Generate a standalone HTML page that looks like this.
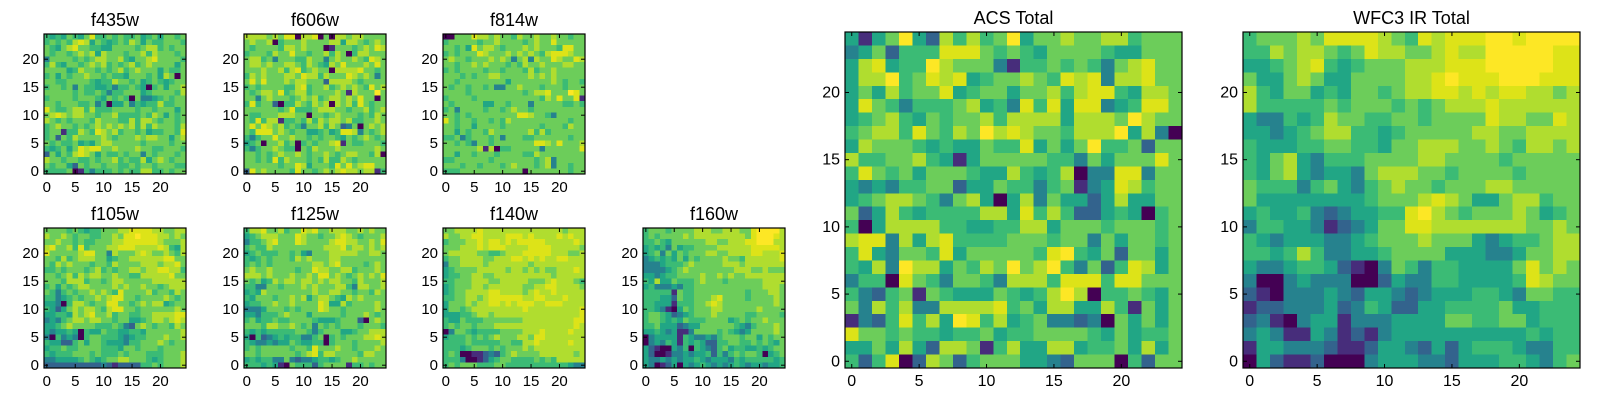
<!DOCTYPE html>
<html><head><meta charset="utf-8"><style>
html,body{margin:0;padding:0;background:#fff;}
svg{display:block;font-family:"Liberation Sans","DejaVu Sans",sans-serif;}
</style></head><body>
<svg id="fig" width="1600" height="400" viewBox="0 0 1600 400" xmlns="http://www.w3.org/2000/svg"></svg>
<script>
// level palette (viridis-like) indices 0..9
const palette = ["#440154","#472d7b","#33638d","#26828e","#21a685","#3bbb75","#6ccd5a","#b0dd2f","#dde318","#fde725"];
const tickValues = [0,5,10,15,20];
const panelTitles = ["f435w","f606w","f814w","f105w","f125w","f140w","f160w","ACS Total","WFC3 IR Total"];
// rows listed top (y=24) to bottom (y=0)
const f435w = ["5454654685565655645646656","5656578746545657646556665","6546786655446666567756566","6566567674766656675766656","3666656567766754667866665","5754665676756567567666646","6666457665656756766646556","5646566766565546665647606","6655666654557665645654566","5665636554453556540564667","6666656556535566645666657","5666656665465650633456566","6656665563504463545575566","8655677575556666566566646","6787677665667555565764656","7656566657666557577656656","5676656567676767575766657","5661557658767566564556658","5626576666765666767766467","6565564546776666656666566","5456468788667666766556665","2646578764655656636566656","7665665565667565574676566","6566426566566556566566655","5555601535556565577556566"];
const f606w = ["7777676880778060776776666","6766705666766667747765676","6566665776766601666567687","5666576686656675760577666","6775636665576636766765876","6776766776576547686667686","6667667578567660777786656","5767666776877576668767636","6868666767766627777656666","5656666557856675676765867","6567768567756666761766696","6636766656767567767686606","5856620557657670767586566","6666665685556777665667567","6556667776606656766656576","6585771556575767767556676","6868767565366757623606767","6588867656644564588736567","5356686676656566546567656","4560667560565667816556665","5356676550657666766666676","6656567667656676567766570","6656585766656575576566666","6666665668746665868678866","2867666658665676787767715"];
const f814w = ["0066687767665766766766566","5666665667666656766866666","6656486776566676766658866","5656668766676767657888766","6766566676763673766876687","6656676766656576676667766","5656666566566657566766666","6665656677666667676766666","6656666666646666666765665","6566566563366766656665666","6666566666666656778666986","5666656666666666657686681","6566666446656663666665565","5636666566567665666666666","6656566666666887665366666","8656656656576666666666566","6656646666566666656665766","6646566576666667575666666","5563566656366655666666566","6656536656666666887686667","6666667170556666636666668","6646656665666655766666666","5566666656666666567366666","6665665666567666567366566","5556666666666606666666566"];
const f105w = ["6666565455666778888776677","7667656655667688988877676","6676656556667788888876667","7866758566677888777787547","8666667886637666787667657","6657567776645667777778866","6576766656657666677767786","5565666567565667767788775","6656757677667665577777866","6665777566567766666777777","5646567766667676676656777","6535656676765866667566576","5534565667678866566667656","4430577656688665676774566","5424676776578866566666676","4455476786675665566777788","3435677677665664456776787","4456766665556532676566576","4344540544655445546666667","3053430566555434556667667","5442256466544435566676566","4556556666555466566656666","5455566656555656665556667","3344445654566776665456667","2222222222321222255656667"];
const f125w = ["5778667566878667776676766","4567776668766566787656667","3556786668766667887766768","5655766666666677786776767","4565556656436667777766776","5456566657676667766666666","5656566666667767866665676","6766766665668776677566676","7776766676676886765676768","6564576776776767766576667","5533665666767666775377667","4547666666667667766566576","5466656676746776547676666","4556676676666874475666676","3334666565666876656666676","4435556766646666656667656","5645565566665444566620676","6665776676563656566656665","5454555556653566644566777","4052345455335605656667787","5433434465445505666566667","5656666656658666766566676","6656666665678577666657766","4545533632334554566766666","5554541065552566661556566"];
const f140w = ["6677778777777777777776777","7667788777788878777787877","5666778788787888887777787","6667778788877778888777776","6777776655677788888777667","5667777667778878787788777","3667777677777776777777777","4566667777767767676677787","4556677667777777777677777","5566677766777776667877765","4566677677777766778877776","4566777788777767877877777","5566776788888877887778777","4666767788787888778887777","4665677777777787777777778","4445567767777777777777778","5446555666666677777777788","5656656667777777777777787","0366545555666677787777877","4555656567666776887777777","5555655555665577877777877","5554566656566676777777777","5650011232567666677777767","5553001245665555656577777","5656665556655555555555433"];
const f160w = ["5666566667776677766899997","5656666767777777776899987","5565466666677667778899977","4545364556666777777888887","4563646566677667777887778","3454546465666676657777778","3334555676666677767777777","3333456766666666777667666","4434556666766767667777777","5474465556766656666667777","4533343556666666666667776","5555516556666666665666776","5554426556667866665666676","5544415556678766666666676","5543104656667766666676666","5665423456667666665566665","5665454655566664565667666","5564442344666666543566676","4454341136666565434666676","0344441543343566656646566","0343541545422556655656546","4210043505432564554454566","4200133434452535656650456","4334343445434443545555545","4301240434543434543443445"];
const acsTotal = ["4146942757569466766775666","3462555888656546666544666","4784559766631556565367866","4779568784566765878377866","4647566845664667578854776","4865355567453858488345886","4567546566757777477769766","5677586576978766577794730","4766654544655846469556266","7556675414666665536466686","5865646665447545703388366","4343556624465535613487566","4567765367404736442474466","6247545555774857522454056","5047777554455774666566656","7883747855556665663646656","5843665846666658954626646","5473977465769679536258746","3550865366537775888588666","5325616544465457970556546","6375733777785647744751646","1325857498574563323064646","8665655455645566665464556","4464742776157447745564746","5258027625666443266605266"];
const wfc3Total = ["5666768888765878889989999","5576776568776678779999988","4456785456667778889999988","6446764466667789888999888","7546645466567788787887767","7555556566656567778777777","4335457665566566668776687","4434567755456666677667777","5444556655466777667657767","5467435556666776666566666","5467434436777665666656666","6555356435676656667766666","6444444445666787644677566","4544532344558976566676456","3554431234668877777776676","5434443345666766643455677","5545753344566664443346677","4334554210365355444468676","3003433300243355444458766","2103334324432344455436655","1223334235422445555644555","2310344133344446655664555","3431143121344444444445455","1443332112443242455543355","0421120003444332444554356"];

const panelData = [f435w,f606w,f814w,f105w,f125w,f140w,f160w,acsTotal,wfc3Total];
const panelNames = ["f435w","f606w","f814w","f105w","f125w","f140w","f160w","acs-total","wfc3-ir-total"];
// layout boxes [x, y, w, h, labelSize, titleSize]
const boxes = [
 [44,34,142,140,15,18],[244,34,142,140,15,18],[443,34,142,140,15,18],
 [44,228,142,140,15,18],[244,228,142,140,15,18],[443,228,142,140,15,18],[643,228,142,140,15,18],
 [845,32,337,336,16,18],[1243,32,337,336,16,18]
];
const NS="http://www.w3.org/2000/svg";
const svg=document.getElementById('fig');
function mk(tag,attrs,parent){const e=document.createElementNS(NS,tag);for(const k in attrs)e.setAttribute(k,attrs[k]);(parent||svg).appendChild(e);return e;}

panelData.forEach((rows,pi)=>{
  const [x0,y0,w,h,fs,ts]=boxes[pi];
  const n=rows.length, m=rows[0].length;
  const g=mk('g',{});
  
  
  const xs=v=>x0+(v+0.5)*w/m;
  const ys=v=>y0+h-(v+0.5)*h/n;
  const cg=mk('g',{'shape-rendering':'crispEdges'},g);
  
  
  for(let r=0;r<n;r++){
    const yv=n-1-r;
    for(let c=0;c<m;c++){
      const lv=parseInt(rows[r][c]||'5',10);
      const L=xs(c-0.5), R=xs(c+0.5), T=ys(yv+0.5), B=ys(yv-0.5);
      const cell=mk('rect',{x:L.toFixed(2),y:T.toFixed(2),width:(R-L+0.4).toFixed(2),height:(B-T+0.4).toFixed(2),fill:palette[lv]},cg);
      
      
    }
  }
  const frame=mk('rect',{x:x0,y:y0,width:w,height:h,fill:'none',stroke:'#000','stroke-width':1.2},g);
  
  
  tickValues.forEach(v=>{
    const tx=xs(v), ty=ys(v);
    mk('line',{x1:tx,y1:y0+h,x2:tx,y2:y0+h-4,stroke:'#000','stroke-width':1},g);
    mk('line',{x1:tx,y1:y0,x2:tx,y2:y0+4,stroke:'#000','stroke-width':1},g);
    mk('line',{x1:x0,y1:ty,x2:x0+4,y2:ty,stroke:'#000','stroke-width':1},g);
    mk('line',{x1:x0+w,y1:ty,x2:x0+w-4,y2:ty,stroke:'#000','stroke-width':1},g);
    const xl=mk('text',{x:tx,y:y0+h+18,'font-size':fs,'text-anchor':'middle',fill:'#000'},g);
    xl.textContent=String(v);
    
    
    const yl=mk('text',{x:x0-5,y:ty+5,'font-size':fs,'text-anchor':'end',fill:'#000'},g);
    yl.textContent=String(v);
    
    
  });
  const t=mk('text',{x:x0+w/2,y:y0-8,'font-size':ts,'text-anchor':'middle',fill:'#000'},g);
  t.textContent=panelTitles[pi];
  
  
});
</script>
</body></html>
